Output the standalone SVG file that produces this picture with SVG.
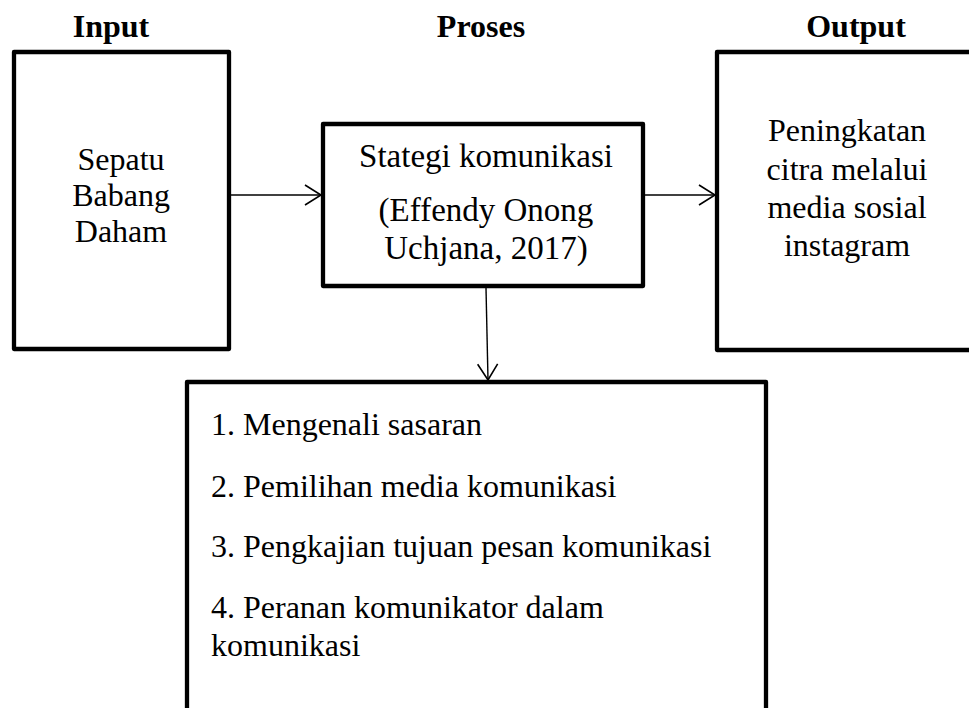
<svg xmlns="http://www.w3.org/2000/svg" width="969" height="708" viewBox="0 0 969 708">
<style>
.box{fill:#fff;stroke:#000;stroke-width:4.3;stroke-linejoin:round}
.t{font-family:"Liberation Serif","Times New Roman",serif;font-size:32px;fill:#000}
.p{font-size:33px}
.c{text-anchor:middle}
.h{font-weight:bold}
.con{stroke:#000;stroke-width:1.4;fill:none}
</style>
<defs>
<marker id="arr" markerWidth="20" markerHeight="24" refX="17" refY="11" orient="auto" markerUnits="userSpaceOnUse">
<path d="M1,1 L17,11 L1,21" fill="none" stroke="#000" stroke-width="1.6"/>
</marker>
</defs>
<rect width="969" height="708" fill="#fff"/>
<g id="titles">
<text class="t c h" x="111" y="37">Input</text>
<text class="t c h" x="481" y="37">Proses</text>
<text class="t c h" x="856" y="37">Output</text>
</g>
<g id="input">
<rect class="box" x="14" y="52" width="215" height="297"/>
<text class="t c" x="121" y="170">Sepatu</text>
<text class="t c" x="121" y="206">Babang</text>
<text class="t c" x="121" y="242">Daham</text>
</g>
<g id="proses">
<rect class="box" x="323" y="124" width="320" height="162"/>
<text class="t p c" x="486" y="167">Stategi komunikasi</text>
<text class="t p c" x="486" y="221">(Effendy Onong</text>
<text class="t p c" x="486" y="259">Uchjana, 2017)</text>
</g>
<g id="output">
<rect class="box" x="717" y="52" width="280" height="298"/>
<text class="t c" x="847" y="141">Peningkatan</text>
<text class="t c" x="847" y="180">citra melalui</text>
<text class="t c" x="847" y="218">media sosial</text>
<text class="t c" x="847" y="256">instagram</text>
</g>
<g id="strategi">
<rect class="box" x="187" y="382" width="579" height="340"/>
<text class="t" x="211" y="435">1. Mengenali sasaran</text>
<text class="t" x="211" y="497">2. Pemilihan media komunikasi</text>
<text class="t" x="211" y="557">3. Pengkajian tujuan pesan komunikasi</text>
<text class="t" x="211" y="618">4. Peranan komunikator dalam</text>
<text class="t" x="211" y="656">komunikasi</text>
</g>
<g id="connectors">
<line class="con" x1="231" y1="195" x2="321" y2="195" marker-end="url(#arr)"/>
<line class="con" x1="645" y1="195" x2="715" y2="195" marker-end="url(#arr)"/>
<line class="con" x1="486" y1="288" x2="488" y2="380" marker-end="url(#arr)"/>
</g>
</svg>
